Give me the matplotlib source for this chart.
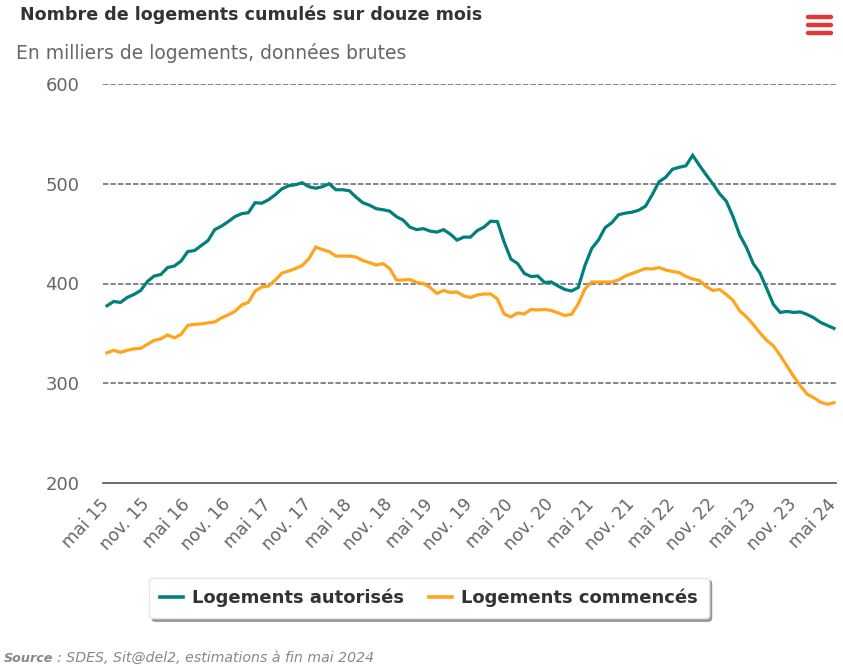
import matplotlib
matplotlib.use("Agg")
import matplotlib.pyplot as plt
from matplotlib.lines import Line2D
from matplotlib.transforms import ScaledTranslation

# donnees mensuelles, mai 2015 -> mai 2024
autorises = [
    377.7, 382, 381, 386, 389, 393, 402, 407.5, 409, 416, 417.5, 422.5,
    432, 433, 438, 443, 454, 457.5, 462, 467, 470, 471, 481, 480.5,
    484, 489, 495, 498, 499, 501, 497, 495.5, 497, 500, 494, 494,
    493, 486.5, 481, 478.5, 475, 474, 472.5, 467, 463.5, 456.5, 454, 455,
    452.5, 451.5, 454, 449.5, 443.5, 446.5, 446.5, 453, 456.5, 462.5, 462, 441.5,
    424.5, 420, 410, 407, 407.5, 401, 401.5, 397.5, 394, 392.5, 396, 418,
    435, 443.5, 456, 461, 469, 470.5, 471.5, 473.5, 477.5, 489, 502, 506.5,
    514.5, 516.5, 518, 528.5, 518.5, 509, 500, 490, 482.5, 467, 448.5, 436,
    420, 410.5, 395, 379, 371, 372, 371, 371.5, 369, 365.6, 361, 358, 355,
]
commences = [
    330.5, 333, 331, 333, 334.5, 335, 339, 343, 344.5, 348.5, 345.5, 349,
    358, 359, 359.5, 360.5, 361.5, 365.5, 368.5, 372, 378.5, 381, 392.5, 396.5,
    397.5, 403.5, 410.5, 412.5, 415, 418, 425, 436.5, 434, 432, 427.5, 427.5,
    427.5, 426.5, 423, 421, 418.5, 420, 415, 403.5, 403.5, 404, 401, 400,
    396, 390, 393, 391, 391.5, 387.5, 386, 388.5, 389.5, 389.5, 384.5, 369.5,
    366.5, 370.5, 369.5, 374, 373.5, 374, 373, 370.5, 368, 369, 379.5, 394.5,
    401.5, 401.5, 401.5, 401.5, 403.5, 407.5, 410, 412.5, 415, 414.5, 416, 413.5,
    412, 411, 407, 404.5, 403, 397, 393, 394, 389, 383, 372.5, 366.5,
    359, 350.5, 343, 337.5, 328, 317.5, 307, 297.5, 289, 285.5, 281, 279, 280.5,
]
mois_labels = ["mai 15", "nov. 15", "mai 16", "nov. 16", "mai 17", "nov. 17", "mai 18",
               "nov. 18", "mai 19", "nov. 19", "mai 20", "nov. 20", "mai 21", "nov. 21",
               "mai 22", "nov. 22", "mai 23", "nov. 23", "mai 24"]
y_ticks = [200, 300, 400, 500, 600]

TEAL = "#00807a"
ORANGE = "#ffa41c"
FONT = "DejaVu Sans"
W, H = 843, 666

fig = plt.figure(figsize=(W / 100, H / 100), dpi=100, facecolor="white")
ax = fig.add_axes([103 / W, 1 - 483 / H, (836 - 103) / W, (483 - 84) / H])

mois = list(range(len(autorises)))
ax.plot(mois, autorises, color=TEAL, lw=2.3, solid_joinstyle="miter", label="Logements autorisés", zorder=3)
ax.plot(mois, commences, color=ORANGE, lw=2.3, solid_joinstyle="miter", label="Logements commencés", zorder=3)

ax.set_xlim(-4 / 6.73, 108 + 2 / 6.73)
ax.set_ylim(200, 600)
ax.set_yticks(y_ticks)
ax.set_xticks(mois[::6])
ax.tick_params(axis="x", length=0, pad=9)
ax.tick_params(axis="y", length=0, pad=17)
ax.set_xticklabels(mois_labels, rotation=47, ha="right", rotation_mode="anchor",
                   fontsize=12.4, color="#666666", family=FONT)
# tick_params remet le transform, donc le decalage vient apres
decale = ScaledTranslation(-7 / 100, 0, fig.dpi_scale_trans)
for lab in ax.get_xticklabels():
    lab.set_transform(lab.get_transform() + decale)
for lab in ax.get_yticklabels():
    lab.set_fontsize(13)
    lab.set_color("#666666")
    lab.set_family(FONT)

ax.grid(axis="y", color="#6e6e6e", lw=1.2, ls=(0, (3.2, 1.3)))
ax.set_axisbelow(True)
for s in ["top", "right", "left"]:
    ax.spines[s].set_visible(False)
ax.spines["bottom"].set_color("#666666")
ax.spines["bottom"].set_linewidth(1.3)

fig.text(20 / W, 1 - 15 / H, "Nombre de logements cumulés sur douze mois", family=FONT,
         fontweight="bold", fontsize=12.65, color="#333333", va="center")
fig.text(16 / W, 1 - 53 / H, "En milliers de logements, données brutes", family=FONT,
         fontsize=13.5, color="#666666", va="center")

# source, mot en gras + reste
fig.text(4 / W, 1 - 658 / H, "Source", family=FONT, fontsize=9.2, style="italic",
         fontweight="bold", color="#888888", va="center")
fig.text(57 / W, 1 - 658 / H, ": SDES, Sit@del2, estimations à fin mai 2024", family=FONT,
         fontsize=10.15, style="italic", color="#888888", va="center")

# icone menu
for y in [17, 25, 33]:
    fig.add_artist(Line2D([808 / W, 831 / W], [1 - y / H, 1 - y / H], color="#e0393a",
                          lw=3.2, solid_capstyle="round"))

leg = fig.legend(loc="center", bbox_to_anchor=(429 / W, 1 - 598 / H), ncol=2, frameon=True,
                 fancybox=True, shadow={"color": "#888888", "alpha": 0.8, "ox": 2, "oy": -2},
                 facecolor="white", edgecolor="#e6e6e6", framealpha=1,
                 prop={"family": FONT, "weight": "bold", "size": 13},
                 labelcolor="#333333", handlelength=1.25, columnspacing=1.4, handletextpad=0.5,
                 borderpad=0.62)
for t in leg.get_lines():
    t.set_linewidth(2.6)

fig.savefig("out.png", dpi=100)
